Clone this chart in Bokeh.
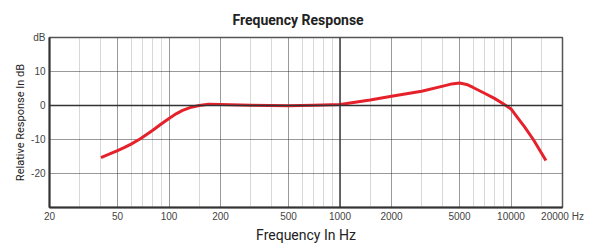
from bokeh.plotting import figure
from bokeh.models import FixedTicker, Grid, Span
from bokeh.embed import file_html
from bokeh.resources import INLINE

# Data
freq_hz = [40, 45, 50, 55, 60, 68, 80, 90, 100, 110, 120, 135, 150, 170, 200,
           300, 500, 700, 1000, 1500, 2000, 3000, 4000, 4500, 5000, 5500,
           6000, 7000, 8000, 9000, 10000, 11000, 12000, 13500, 15000, 16000]
response_db = [-15.3, -14.25, -13.25, -12.3, -11.35, -9.8, -7.35, -5.45, -3.8,
               -2.45, -1.45, -0.5, 0.0, 0.35, 0.3, 0.1, -0.1, 0.1, 0.3, 1.6,
               2.7, 4.2, 5.7, 6.35, 6.6, 6.2, 5.3, 3.6, 2.1, 0.5, -1.0, -3.8,
               -6.3, -10.0, -13.8, -16.2]

x_ticks = [20, 50, 100, 200, 500, 1000, 2000, 5000, 10000, 20000]
x_tick_labels = ["20", "50", "100", "200", "500", "1000", "2000", "5000", "10000", "20000 Hz"]
x_major_grid = [50, 100, 200, 500, 2000, 5000, 10000]
x_minor_grid = [30, 40, 60, 70, 80, 90, 150, 300, 400, 600, 700, 800, 900,
                1500, 3000, 4000, 6000, 7000, 8000, 9000, 15000]
y_ticks = [20, 10, 0, -10, -20]
y_tick_labels = ["dB", "10", "0", "-10", "-20"]
y_grid = [10, -10, -20]

CONDENSED = "Roboto"

p = figure(frame_width=513, frame_height=170, x_axis_type="log",
           x_range=(20, 20000), y_range=(-30, 20),
           output_backend="svg", toolbar_location=None,
           min_border_left=49, min_border_right=22,
           min_border_top=37, min_border_bottom=33,
           title="Frequency Response")

p.title.text_font = CONDENSED
p.title.text_font_style = "bold"
p.title.text_font_size = "14px"
p.title.text_color = "#222222"
p.title.align = "left"
p.title.offset = 183
p.title.standoff = 19

p.xgrid.visible = False
p.ygrid.visible = False

p.outline_line_color = "#555555"
p.outline_line_width = 1.5
p.background_fill_color = "white"
p.border_fill_color = "white"

for ax in (p.xaxis[0], p.yaxis[0]):
    ax.axis_line_color = "#333333"
    ax.axis_line_width = 2
    ax.major_tick_line_color = None
    ax.minor_tick_line_color = None
    ax.major_tick_out = 0
    ax.major_tick_in = 0
    ax.major_label_text_font = "Liberation Sans"
    ax.major_label_text_font_size = "10px"
    ax.major_label_text_color = "#444444"
    ax.axis_label_text_font = CONDENSED
    ax.axis_label_text_font_style = "normal"
    ax.axis_label_text_color = "#222222"

p.xaxis.ticker = FixedTicker(ticks=x_ticks)
p.xaxis.major_label_overrides = {t: s for t, s in zip(x_ticks, x_tick_labels)}
p.xaxis.major_label_standoff = 3
p.xaxis.axis_label = "Frequency In Hz"
p.xaxis.axis_label_text_font_size = "14px"
p.xaxis.axis_label_standoff = 2

p.yaxis.ticker = FixedTicker(ticks=y_ticks)
p.yaxis.major_label_overrides = {t: s for t, s in zip(y_ticks, y_tick_labels)}
p.yaxis.major_label_standoff = 4
p.yaxis.axis_label = "Relative Response In dB"
p.yaxis.axis_label_text_font_size = "11px"
p.yaxis.axis_label_standoff = 1

minor_v = Grid(dimension=0, ticker=FixedTicker(ticks=x_minor_grid),
               grid_line_color="#b0b0b0", grid_line_width=1, grid_line_dash="1 1")
major_v = Grid(dimension=0, ticker=FixedTicker(ticks=x_major_grid),
               grid_line_color="#333333", grid_line_width=1, grid_line_dash="1 1")
major_h = Grid(dimension=1, ticker=FixedTicker(ticks=y_grid),
               grid_line_color="#333333", grid_line_width=1, grid_line_dash="1 1")
p.add_layout(minor_v)
p.add_layout(major_v)
p.add_layout(major_h)

p.add_layout(Span(location=0, dimension="width", line_color="#333333", line_width=1.5))
p.add_layout(Span(location=1000, dimension="height", line_color="#333333", line_width=1.5))

p.line(freq_hz, response_db, line_color="#e5222b", line_width=3, line_join="round")

open("out.html", "w").write(file_html(p, INLINE))
